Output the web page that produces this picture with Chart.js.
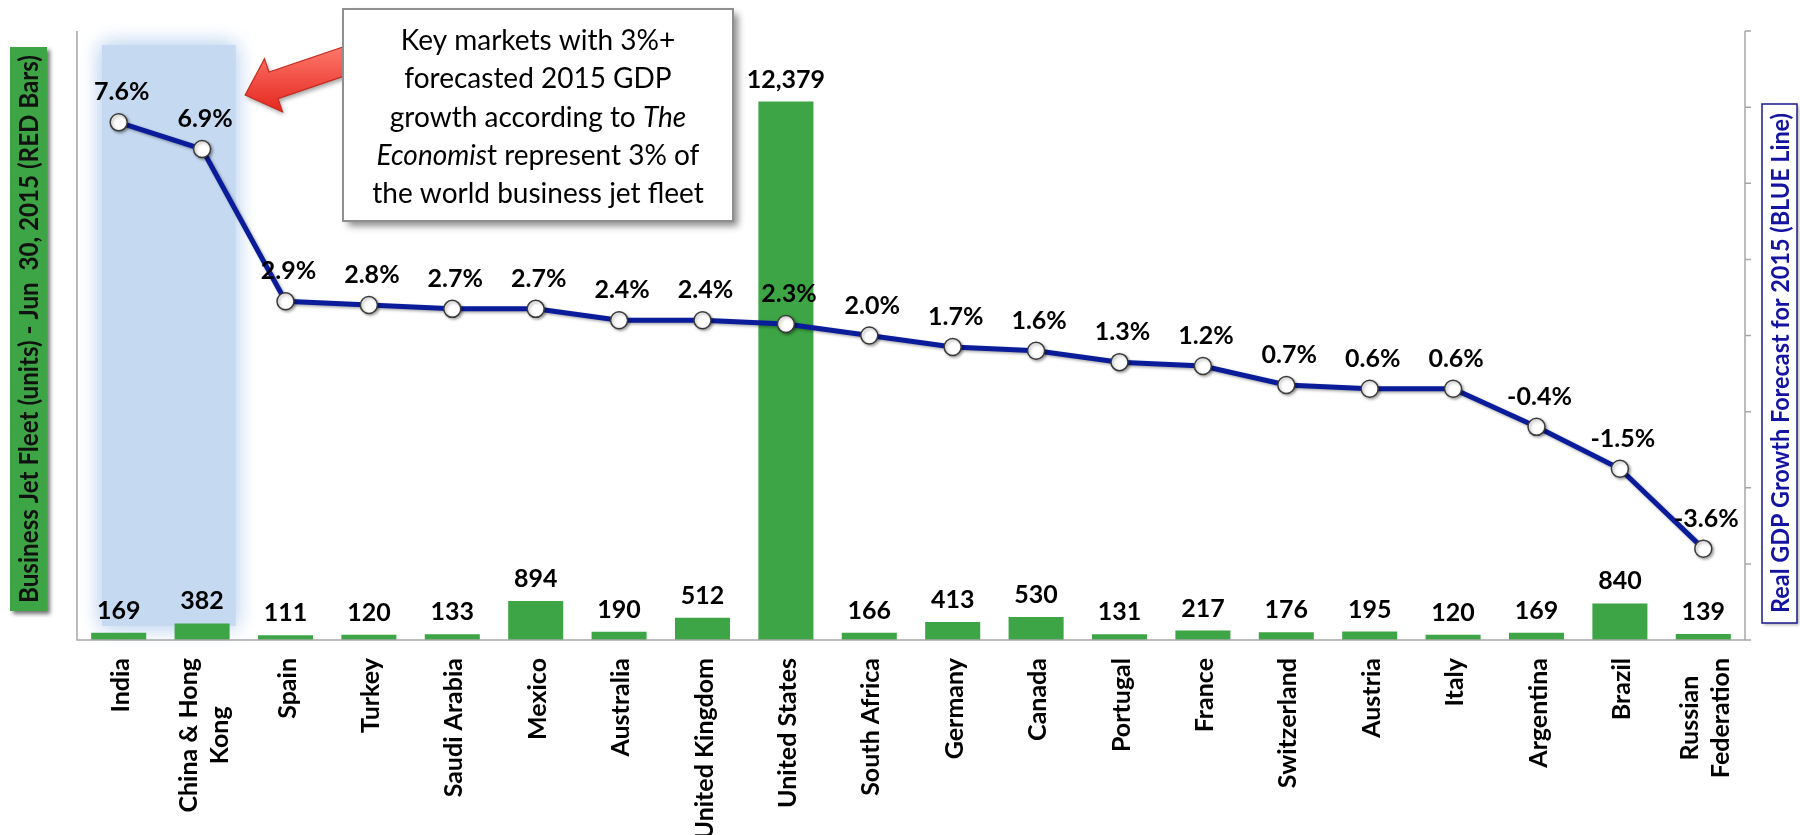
<!DOCTYPE html>
<html>
<head>
<meta charset="utf-8">
<script src="https://cdn.jsdelivr.net/npm/chart.js@4"></script>
<style>
	html, body { margin: 0; padding: 0; background: #fff; }
	#wrap { width: 1800px; height: 835px; position: relative; }
</style>
</head>
<body>
<div id="wrap"><canvas id="fleetChart"></canvas></div>
<script>
// data
var countries = [['India'], ['China & Hong', 'Kong'], ['Spain'], ['Turkey'], ['Saudi Arabia'], ['Mexico'], ['Australia'], ['United Kingdom'], ['United States'], ['South Africa'], ['Germany'], ['Canada'], ['Portugal'], ['France'], ['Switzerland'], ['Austria'], ['Italy'], ['Argentina'], ['Brazil'], ['Russian', 'Federation']];
var jetFleet = [169, 382, 111, 120, 133, 894, 190, 512, 12379, 166, 413, 530, 131, 217, 176, 195, 120, 169, 840, 139];
var gdpGrowth = [7.6, 6.9, 2.9, 2.8, 2.7, 2.7, 2.4, 2.4, 2.3, 2.0, 1.7, 1.6, 1.3, 1.2, 0.7, 0.6, 0.6, -0.4, -1.5, -3.6];
var gdpTicks = [-6, -4, -2, 0, 2, 4, 6, 8, 10];
var highlighted = [0, 1];

var leftTitle = 'Business Jet Fleet (units) - Jun  30, 2015 (RED Bars)';
var rightTitle = 'Real GDP Growth Forecast for 2015 (BLUE Line)';
var calloutLines = [
	[{ t: 'Key markets with 3%+' }],
	[{ t: 'forecasted 2015 GDP' }],
	[{ t: 'growth according to ' }, { t: 'The', i: true }],
	[{ t: 'Economis', i: true }, { t: 't represent 3% of' }],
	[{ t: 'the world business jet fleet' }]
];

var green = '#3da545';
var navy = '#0a1c9a';
var axisGrey = '#a6a6a6';
var font = 'Lato, "Open Sans", sans-serif';

function fitText(ctx, text, maxW) {
	var w = ctx.measureText(text).width;
	if (w > maxW) ctx.scale(maxW / w, 1);
}

var decor = {
	id: 'decor',
	beforeDatasetsDraw: function(chart) {
		var ctx = chart.ctx, x = chart.scales.x, area = chart.chartArea;
		var step = x.getPixelForValue(1) - x.getPixelForValue(0);
		var l = x.getPixelForValue(highlighted[0]) - step * 0.2;
		var r = x.getPixelForValue(highlighted[highlighted.length - 1]) + step * 0.4;
		ctx.save();
		ctx.fillStyle = '#c5d9f1';
		ctx.shadowColor = '#c5d9f1';
		ctx.shadowBlur = 20;
		ctx.fillRect(l, area.top + 14, r - l, area.bottom - area.top - 28);
		ctx.fillRect(l, area.top + 14, r - l, area.bottom - area.top - 28);
		ctx.restore();
	},
	beforeDatasetDraw: function(chart, args) {
		if (args.index !== 1) return;
		var ctx = chart.ctx;
		ctx.save();
		ctx.shadowColor = 'rgba(0,0,0,0.35)';
		ctx.shadowBlur = 3;
		ctx.shadowOffsetX = 1.5;
		ctx.shadowOffsetY = 1.5;
	},
	afterDatasetDraw: function(chart, args) {
		if (args.index !== 1) return;
		chart.ctx.restore();
	},
	afterDatasetsDraw: function(chart) {
		var ctx = chart.ctx, area = chart.chartArea;
		var x = chart.scales.x, y2 = chart.scales.y2;

		// axes
		ctx.save();
		ctx.strokeStyle = axisGrey;
		ctx.lineWidth = 1.5;
		ctx.beginPath();
		ctx.moveTo(area.left, area.top); ctx.lineTo(area.left, area.bottom);
		ctx.lineTo(area.right, area.bottom); ctx.lineTo(area.right, area.top);
		gdpTicks.forEach(function(v) {
			var py = y2.getPixelForValue(v);
			ctx.moveTo(area.right, py); ctx.lineTo(area.right + 6, py);
		});
		ctx.stroke();
		ctx.restore();

		// bar labels
		var bars = chart.getDatasetMeta(0).data;
		ctx.save();
		ctx.fillStyle = '#000';
		ctx.font = 'bold 25px ' + font;
		ctx.textAlign = 'center';
		ctx.textBaseline = 'alphabetic';
		bars.forEach(function(b, i) {
			ctx.fillText(jetFleet[i].toLocaleString('en-US'), b.x, b.y - 14);
		});
		// line labels
		var pts = chart.getDatasetMeta(1).data;
		pts.forEach(function(p, i) {
			ctx.fillText(gdpGrowth[i].toFixed(1) + '%', p.x + 3, p.y - 22);
		});
		ctx.restore();

		// category labels, rotated
		ctx.save();
		ctx.fillStyle = '#000';
		ctx.font = 'bold 25px ' + font;
		ctx.textBaseline = 'middle';
		ctx.textAlign = 'center';
		countries.forEach(function(lines, i) {
			var cx = x.getPixelForValue(i);
			var maxW = 0;
			lines.forEach(function(t) { maxW = Math.max(maxW, ctx.measureText(t).width); });
			ctx.save();
			ctx.translate(cx, area.bottom + 18);
			ctx.rotate(-Math.PI / 2);
			lines.forEach(function(t, j) {
				ctx.fillText(t, -maxW / 2, (j - (lines.length - 1) / 2) * 31 + 2);
			});
			ctx.restore();
		});
		ctx.restore();

		// left title box
		ctx.save();
		ctx.shadowColor = 'rgba(0,0,0,0.55)';
		ctx.shadowBlur = 4;
		ctx.shadowOffsetX = 3;
		ctx.shadowOffsetY = 3;
		ctx.fillStyle = green;
		ctx.fillRect(10, 47, 37, 564);
		ctx.restore();
		ctx.save();
		ctx.translate(29, 329);
		ctx.rotate(-Math.PI / 2);
		ctx.font = 'bold 26px ' + font;
		ctx.fillStyle = '#111';
		ctx.textAlign = 'center';
		ctx.textBaseline = 'middle';
		fitText(ctx, leftTitle, 548);
		ctx.fillText(leftTitle, 0, 1);
		ctx.restore();

		// right title box
		ctx.save();
		ctx.shadowColor = 'rgba(0,0,0,0.3)';
		ctx.shadowBlur = 3;
		ctx.shadowOffsetX = 2;
		ctx.shadowOffsetY = 2;
		ctx.fillStyle = '#fff';
		ctx.fillRect(1762, 104, 35, 519);
		ctx.restore();
		ctx.save();
		ctx.strokeStyle = '#1a1a8c';
		ctx.lineWidth = 1.5;
		ctx.strokeRect(1762, 104, 35, 519);
		ctx.translate(1780, 363);
		ctx.rotate(-Math.PI / 2);
		ctx.font = 'bold 25px ' + font;
		ctx.fillStyle = '#1414a0';
		ctx.textAlign = 'center';
		ctx.textBaseline = 'middle';
		fitText(ctx, rightTitle, 500);
		ctx.fillText(rightTitle, 0, 1);
		ctx.restore();

		// red arrow pointing at the highlighted markets
		var tip = { x: x.getPixelForValue(1) + 43, y: 95 };
		var ux = 0.947, uy = -0.322, nx = 0.322, ny = 0.947;
		var bx = tip.x + 30 * ux, by = tip.y + 30 * uy;
		var tx = tip.x + 140 * ux, ty = tip.y + 140 * uy;
		ctx.save();
		ctx.beginPath();
		ctx.moveTo(tip.x, tip.y);
		ctx.lineTo(bx - 28 * nx, by - 28 * ny);
		ctx.lineTo(bx - 14 * nx, by - 14 * ny);
		ctx.lineTo(tx - 14 * nx, ty - 14 * ny);
		ctx.lineTo(tx + 14 * nx, ty + 14 * ny);
		ctx.lineTo(bx + 14 * nx, by + 14 * ny);
		ctx.lineTo(bx + 28 * nx, by + 28 * ny);
		ctx.closePath();
		var g = ctx.createLinearGradient(0, 45, 0, 115);
		g.addColorStop(0, '#ff7a6e');
		g.addColorStop(1, '#e3231b');
		ctx.shadowColor = 'rgba(0,0,0,0.35)';
		ctx.shadowBlur = 4;
		ctx.shadowOffsetX = 2;
		ctx.shadowOffsetY = 3;
		ctx.fillStyle = g;
		ctx.fill();
		ctx.shadowColor = 'transparent';
		ctx.strokeStyle = '#c62a1e';
		ctx.lineWidth = 1.2;
		ctx.stroke();
		ctx.restore();

		// callout box
		ctx.save();
		ctx.shadowColor = 'rgba(0,0,0,0.45)';
		ctx.shadowBlur = 7;
		ctx.shadowOffsetX = 5;
		ctx.shadowOffsetY = 5;
		ctx.fillStyle = '#fff';
		ctx.fillRect(343, 9, 390, 212);
		ctx.restore();
		ctx.save();
		ctx.strokeStyle = '#8f8f8f';
		ctx.lineWidth = 2;
		ctx.strokeRect(343, 9, 390, 212);
		ctx.fillStyle = '#000';
		ctx.textBaseline = 'middle';
		ctx.textAlign = 'left';
		calloutLines.forEach(function(segs, j) {
			var total = 0;
			segs.forEach(function(s) {
				ctx.font = (s.i ? 'italic ' : '') + '28px ' + font;
				total += ctx.measureText(s.t).width;
			});
			var sx = 538 - total / 2;
			segs.forEach(function(s) {
				ctx.font = (s.i ? 'italic ' : '') + '28px ' + font;
				ctx.fillText(s.t, sx, 41 + j * 38.3);
				sx += ctx.measureText(s.t).width;
			});
		});
		ctx.restore();
	}
};

new Chart(document.getElementById('fleetChart'), {
	type: 'bar',
	data: {
		labels: countries,
		datasets: [{
			type: 'bar',
			label: 'Business Jet Fleet',
			data: jetFleet,
			backgroundColor: green,
			barPercentage: 0.66,
			categoryPercentage: 1,
			yAxisID: 'y',
			order: 1
		}, {
			type: 'line',
			label: 'Real GDP Growth',
			data: gdpGrowth,
			borderColor: navy,
			borderWidth: 5,
			tension: 0,
			pointRadius: 8.5,
			pointBackgroundColor: '#fff',
			pointBorderColor: '#3a3a3a',
			pointBorderWidth: 1.5,
			yAxisID: 'y2',
			order: 0
		}]
	},
	options: {
		responsive: true,
		maintainAspectRatio: false,
		animation: false,
		layout: { padding: { left: 77, right: 55, top: 31, bottom: 195 } },
		plugins: { legend: { display: false }, tooltip: { enabled: false } },
		scales: {
			x: { display: false, offset: true },
			y: { display: false, min: 0, max: 14000 },
			y2: { display: false, position: 'right', min: -6, max: 10 }
		}
	},
	plugins: [decor]
});
</script>
</body>
</html>
